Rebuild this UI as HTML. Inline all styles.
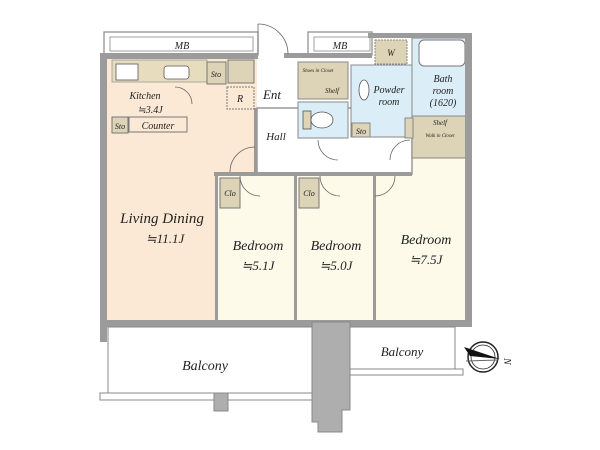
<!DOCTYPE html>
<html><head><meta charset="utf-8"><style>
html,body{margin:0;padding:0;background:#fff;}
svg{display:block;}
text{font-family:"Liberation Serif",serif;font-style:italic;fill:#222;}
</style></head><body>
<svg width="600" height="450" viewBox="0 0 600 450" xmlns="http://www.w3.org/2000/svg">
<rect width="600" height="450" fill="#fff"/>
<rect x="104" y="32" width="154" height="23" fill="#fff" stroke="#888" stroke-width="1.2"/>
<rect x="110" y="37" width="143" height="14" fill="none" stroke="#888" stroke-width="0.8"/>
<rect x="308" y="32" width="64" height="23" fill="#fff" stroke="#888" stroke-width="1.2"/>
<rect x="314" y="37" width="56" height="14" fill="none" stroke="#888" stroke-width="0.8"/>
<text x="182" y="49" font-size="10" text-anchor="middle">MB</text>
<text x="340" y="49" font-size="10" text-anchor="middle">MB</text>
<rect x="107" y="58" width="150" height="116" fill="#fbe9d6"/>
<rect x="107" y="108" width="110" height="214" fill="#fbe9d6"/>
<rect x="218" y="176" width="77" height="146" fill="#fdfaea"/>
<rect x="297" y="176" width="76" height="146" fill="#fdfaea"/>
<rect x="376" y="176" width="90" height="146" fill="#fdfaea"/>
<rect x="412" y="158" width="54" height="20" fill="#fdfaea"/>
<rect x="257" y="108" width="155" height="66" fill="#fff" stroke="#999" stroke-width="1.5"/>
<rect x="254" y="108" width="3" height="66" fill="#999"/>
<rect x="298" y="62" width="50" height="37" fill="#ddd3b6" stroke="#888" stroke-width="1"/>
<rect x="298" y="102" width="50" height="36" fill="#dbeef8" stroke="#888" stroke-width="1"/>
<rect x="351" y="65" width="62" height="72" fill="#dbeef8" stroke="#888" stroke-width="1"/>
<rect x="375" y="40" width="32" height="24" fill="#ddd3b6" stroke="#888" stroke-dasharray="2,1"/>
<rect x="412" y="38" width="56" height="80" fill="#dbeef8" stroke="#888" stroke-width="1"/>
<rect x="419" y="40" width="46" height="26" rx="5" fill="#fff" stroke="#777"/>
<rect x="412" y="116" width="56" height="42" fill="#ddd3b6" stroke="#888" stroke-width="1"/>
<rect x="405" y="118" width="8" height="20" fill="#ddd3b6" stroke="#888"/>
<rect x="352" y="123" width="18" height="14" fill="#ddd3b6" stroke="#888"/>
<rect x="303" y="111" width="8" height="18" fill="#ddd3b6" stroke="#555" stroke-width="0.8"/>
<ellipse cx="322" cy="120" rx="11" ry="8" fill="#fff" stroke="#555" stroke-width="0.8"/>
<ellipse cx="364" cy="90" rx="5" ry="10" fill="#fff" stroke="#555" stroke-width="0.8"/>
<rect x="112" y="60" width="95" height="22" fill="#e8dcbe" stroke="#999" stroke-width="0.8"/>
<rect x="116" y="64" width="22" height="16" fill="#fff" stroke="#555" stroke-width="0.8"/>
<rect x="164" y="66" width="25" height="13" rx="3" fill="#fff" stroke="#555" stroke-width="0.8"/>
<rect x="207" y="62" width="19" height="22" fill="#ddd3b6" stroke="#777"/>
<rect x="228" y="60" width="26" height="23" fill="#ddd3b6" stroke="#777"/>
<rect x="227" y="87" width="27" height="22" fill="#fbe9d6" stroke="#777" stroke-dasharray="2,1"/>
<rect x="112" y="117" width="16" height="16" fill="#ddd3b6" stroke="#777"/>
<rect x="129" y="117" width="58" height="15" fill="#fbe9d6" stroke="#777"/>
<rect x="220" y="178" width="20" height="30" fill="#ddd3b6" stroke="#777"/>
<rect x="299" y="178" width="20" height="30" fill="#ddd3b6" stroke="#777"/>
<g fill="#9b9b9b">
<rect x="100" y="53" width="158" height="6"/>
<rect x="100" y="53" width="7" height="275"/>
<rect x="100" y="320" width="372" height="7"/>
<rect x="465" y="33" width="7" height="294"/>
<rect x="368" y="33" width="102" height="5"/>
<rect x="284" y="53" width="88" height="5"/>
<rect x="215" y="174" width="3" height="148"/>
<rect x="294" y="174" width="3" height="148"/>
<rect x="373" y="174" width="3" height="148"/>
<rect x="214" y="172" width="198" height="4"/>
<rect x="100" y="322" width="7" height="20"/>
</g>
<g fill="none" stroke="#666" stroke-width="0.8">
<path d="M258 24 A30 30 0 0 1 288 54"/><line x1="258" y1="24" x2="258" y2="54"/>
<path d="M255 147 A25 25 0 0 0 230 172"/><path d="M240 176 A20 20 0 0 0 260 196"/>
<path d="M320 176 A20 20 0 0 0 340 196"/><path d="M395 176 A20 20 0 0 1 375 196"/>
<path d="M318 140 A20 20 0 0 0 338 160"/><path d="M410 140 A20 20 0 0 0 390 160"/>
<path d="M175 87 A17 17 0 0 1 192 104"/>
</g>
<rect x="108" y="327" width="214" height="68" fill="#fff" stroke="#888"/>
<rect x="100" y="393" width="222" height="7" fill="#fff" stroke="#888"/>
<rect x="350" y="327" width="105" height="45" fill="#fff" stroke="#888"/>
<rect x="350" y="369" width="113" height="6" fill="#fff" stroke="#888"/>
<path d="M312 322 H350 V410 H342 V432 H318 V422 H312 Z" fill="#aeaeae" stroke="#888"/>
<rect x="214" y="393" width="14" height="18" fill="#aeaeae" stroke="#888"/>
<circle cx="483" cy="357" r="15" fill="#fff" stroke="#222" stroke-width="1.5"/>
<circle cx="483" cy="357" r="12" fill="none" stroke="#222" stroke-width="0.8"/>
<path d="M464 347 L500 359 L470 356 Z" fill="#111"/>
<line x1="466" y1="361" x2="498" y2="360" stroke="#666"/>
<text x="508" y="362" font-size="10" font-style="normal" transform="rotate(90 508 358)">N</text>
<text x="145" y="99" font-size="10" text-anchor="middle">Kitchen</text>
<text x="150" y="113" font-size="10" text-anchor="middle">≒3.4J</text>
<text x="158" y="129" font-size="10" text-anchor="middle">Counter</text>
<text x="120" y="129" font-size="8" text-anchor="middle">Sto</text>
<text x="216" y="77" font-size="8" text-anchor="middle">Sto</text>
<text x="240" y="102" font-size="10" text-anchor="middle">R</text>
<text x="272" y="99" font-size="13" text-anchor="middle">Ent</text>
<text x="276" y="140" font-size="11" text-anchor="middle">Hall</text>
<text x="389" y="93" font-size="10" text-anchor="middle">Powder</text>
<text x="389" y="105" font-size="10" text-anchor="middle">room</text>
<text x="443" y="82" font-size="10" text-anchor="middle">Bath</text>
<text x="443" y="94" font-size="10" text-anchor="middle">room</text>
<text x="443" y="106" font-size="10" text-anchor="middle">(1620)</text>
<text x="391" y="56" font-size="9" text-anchor="middle">W</text>
<text x="361" y="134" font-size="8" text-anchor="middle">Sto</text>
<text x="440" y="125" font-size="7" text-anchor="middle">Shelf</text>
<text x="440" y="137" font-size="5" text-anchor="middle">Walk in Closet</text>
<text x="318" y="72" font-size="5" text-anchor="middle">Shoes in Closet</text>
<text x="332" y="93" font-size="7" text-anchor="middle">Shelf</text>
<text x="230" y="196" font-size="8" text-anchor="middle">Clo</text>
<text x="309" y="196" font-size="8" text-anchor="middle">Clo</text>
<text x="162" y="223" font-size="15" text-anchor="middle">Living Dining</text>
<text x="165" y="243" font-size="13" text-anchor="middle">≒11.1J</text>
<text x="258" y="250" font-size="14" text-anchor="middle">Bedroom</text>
<text x="258" y="270" font-size="13" text-anchor="middle">≒5.1J</text>
<text x="336" y="250" font-size="14" text-anchor="middle">Bedroom</text>
<text x="336" y="270" font-size="13" text-anchor="middle">≒5.0J</text>
<text x="426" y="244" font-size="14" text-anchor="middle">Bedroom</text>
<text x="426" y="264" font-size="13" text-anchor="middle">≒7.5J</text>
<text x="205" y="370" font-size="14" text-anchor="middle">Balcony</text>
<text x="402" y="356" font-size="13" text-anchor="middle">Balcony</text>
</svg>
</body></html>
